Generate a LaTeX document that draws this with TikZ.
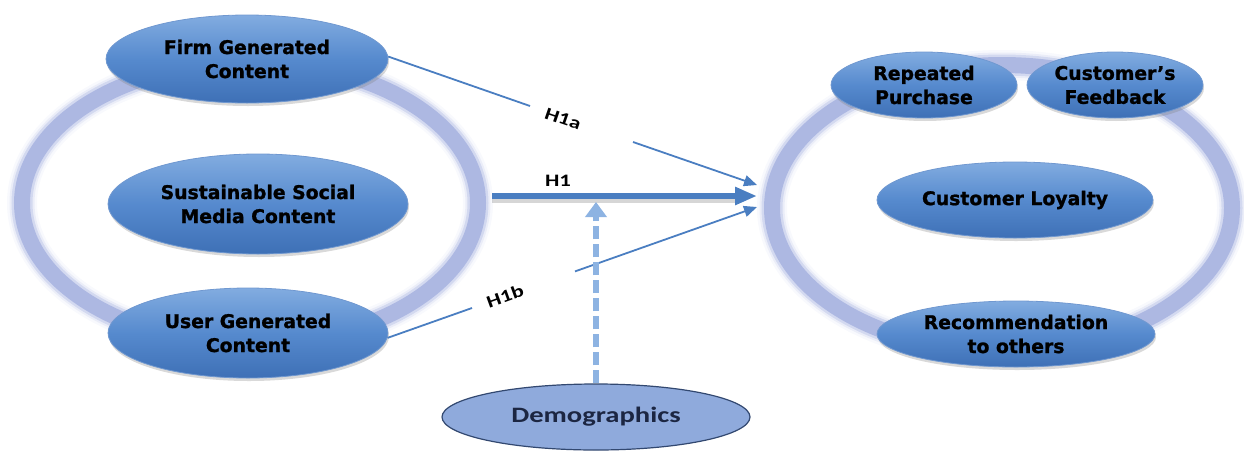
\documentclass[tikz,border=0pt]{standalone}
\usepackage{fontspec}
\setmainfont{DejaVu Sans}
\newfontfamily\bubfont{DejaVu Sans Bold}[FakeBold=1.2]
\newfontfamily\labfont{Carlito Bold}[FakeStretch=1.3]
\usetikzlibrary{arrows.meta,shapes.geometric,shadows}

\definecolor{ringblue}{RGB}{166,178,224}
\definecolor{bubtop}{RGB}{130,172,224}
\definecolor{bubmid}{RGB}{86,138,206}
\definecolor{bubbot}{RGB}{62,112,182}
\definecolor{bubedge}{RGB}{112,152,208}
\definecolor{arrowblue}{RGB}{74,126,193}
\definecolor{dashblue}{RGB}{141,179,226}
\definecolor{demofill}{RGB}{143,170,220}
\definecolor{demoedge}{RGB}{50,72,112}
\definecolor{demotext}{RGB}{28,38,66}

\begin{document}
\begin{tikzpicture}[x=1pt,y=-1pt,
  bubble/.style={ellipse, inner sep=0pt, align=center,
    top color=bubtop, bottom color=bubbot, middle color=bubmid,
    draw=bubedge, line width=0.8pt, text=black,
    font=\bubfont\fontsize{18.8}{24}\selectfont,
    drop shadow={shadow xshift=1pt, shadow yshift=-3pt, opacity=0.3}},
  demobox/.style={ellipse, inner sep=0pt, fill=demofill, draw=demoedge,
    line width=1.2pt, text=demotext,
    font=\labfont\fontsize{22}{26}\selectfont},
  hlabel/.style={inner sep=0pt, text=black,
    font=\labfont\fontsize{17.5}{20}\selectfont},
  thinlink/.style={arrowblue, line width=1.8pt},
  thinarrow/.style={thinlink, -{Triangle[length=13pt,width=11pt]}},
  mainarrow/.style={arrowblue, line width=6pt, -{Triangle[length=22pt,width=17pt]}},
  modarrow/.style={dashblue, line width=6pt, dash pattern=on 13pt off 5pt,
    -{Triangle[length=15pt,width=21pt]}}
]
\useasboundingbox (0,0) rectangle (1244,453);

% soft rings behind the two groups of constructs
\foreach \w/\o in {30/0.08, 25/0.16, 21/0.35, 16/0.85} {
  \draw[ringblue, line width=\w pt, opacity=\o]
    (250,203) ellipse [x radius=228pt, y radius=141pt];
  \draw[ringblue, line width=\w pt, opacity=\o]
    (1002,208) ellipse [x radius=230pt, y radius=143pt];
}

% independent constructs
\node[bubble, minimum width=282pt, minimum height=88pt] (firm) at (247,59) {Firm Generated\\Content};
\node[bubble, minimum width=300pt, minimum height=100pt] (smc) at (258,204) {Sustainable Social\\Media Content};
\node[bubble, minimum width=280pt, minimum height=90pt] (user) at (248,333) {User Generated\\Content};

% dependent constructs
\node[bubble, minimum width=186pt, minimum height=66pt] (rep) at (924,85) {Repeated\\Purchase};
\node[bubble, minimum width=176pt, minimum height=66pt] (fb) at (1115,85) {Customer’s\\Feedback};
\node[bubble, minimum width=276pt, minimum height=76pt] (loyal) at (1015,200) {Customer Loyalty};
\node[bubble, minimum width=278pt, minimum height=66pt] (rec) at (1016,334) {Recommendation\\to others};

% moderator
\node[demobox, minimum width=308pt, minimum height=66pt] (demo) at (596,417) {Demographics};

% arrow end points
\coordinate (h1s) at (492,196);
\coordinate (h1t) at (757,196);
\coordinate (t1) at (757,185);
\coordinate (t2) at (757,207);
\coordinate (a1) at (530,106);
\coordinate (a2) at (633,142);
\coordinate (b1) at (472,308);
\coordinate (b2) at (575,271.4);
\coordinate (mod) at (596,202);

% H1a
\draw[thinlink] (firm.1) -- (a1);
\draw[thinarrow] (a2) -- (t1);
\node[hlabel, rotate=-19] (h1a) at (563,119) {H1a};

% H1b
\draw[thinlink] (user.-2) -- (b1);
\draw[thinarrow] (b2) -- (t2);
\node[hlabel, rotate=20] (h1b) at (505,296) {H1b};

% H1 with its shadow
\draw[black, opacity=0.16, line width=7pt] ([yshift=-3pt]h1s) -- ([xshift=-20pt,yshift=-3pt]h1t);
\draw[mainarrow] (h1s) -- (h1t);
\node[hlabel] (h1) at (558,181) {H1};

% moderating effect
\draw[modarrow] (demo.north) -- (mod);
\end{tikzpicture}
\end{document}
